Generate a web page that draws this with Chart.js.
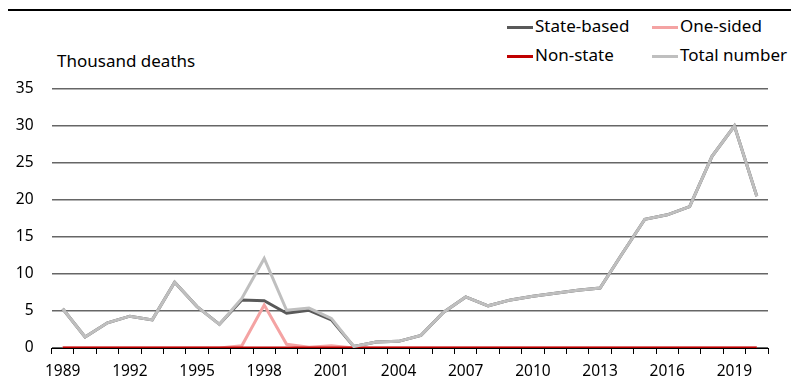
<!DOCTYPE html>
<html>
<head>
<meta charset="utf-8">
<script src="https://cdn.jsdelivr.net/npm/chart.js@4.4.0/dist/chart.umd.min.js"></script>
<style>
    body { margin: 0; background: #fff; font-family: "Noto Sans", sans-serif; }
    #wrap { position: relative; width: 791px; height: 383px; overflow: hidden; }
    #rule { position: absolute; left: 8px; right: 0; top: 9px; height: 2px; background: #000; }
    #unit { position: absolute; left: 57px; top: 49px; font-size: 17px; color: #000; }
    .leg { position: absolute; font-size: 17px; color: #000; white-space: nowrap; }
    .leg span { display: inline-block; width: 26px; height: 3px; vertical-align: middle; margin-right: 2px; }
    canvas { position: absolute; left: 0; top: 0; }
</style>
</head>
<body>
<div id="wrap">
    <div id="rule"></div>
    <div id="unit">Thousand deaths</div>
    <div class="leg" style="left:507px; top:14px"><span style="background:#595959"></span>State-based</div>
    <div class="leg" style="left:652px; top:14px"><span style="background:#f4a3a3"></span>One-sided</div>
    <div class="leg" style="left:507px; top:43px"><span style="background:#c00000"></span>Non-state</div>
    <div class="leg" style="left:652px; top:43px"><span style="background:#bfbfbf"></span>Total number</div>
    <canvas id="myChart" width="791" height="383"></canvas>
</div>
<script>
const years = [];
for (let y = 1989; y <= 2020; y++) years.push(String(y));

// thousand deaths per year
const stateBased = [5.3, 1.5, 3.4, 4.3, 3.8, 8.9, 5.6, 3.2, 6.5, 6.4, 4.7, 5.1, 3.8, 0.2, 0.8, 0.9,
    1.7, 4.8, 6.9, 5.7, 6.5, 7.0, 7.4, 7.8, 8.1, 12.8, 17.4, 18.0, 19.1, 25.9, 30.0, 20.5];
const oneSided = [0, 0, 0, 0, 0, 0, 0, 0, 0.3, 5.8, 0.5, 0.1, 0.3, 0, 0, 0,
    0, 0, 0, 0, 0, 0, 0, 0, 0, 0, 0, 0, 0, 0, 0, 0];
const nonState = [0, 0, 0, 0, 0, 0, 0, 0, 0, 0, 0, 0, 0, 0, 0, 0,
    0, 0, 0, 0, 0, 0, 0, 0, 0, 0, 0, 0, 0, 0, 0, 0];
const total = [5.3, 1.5, 3.4, 4.3, 3.8, 8.9, 5.6, 3.2, 6.7, 12.1, 5.1, 5.4, 4.0, 0.2, 0.8, 0.9,
    1.7, 4.8, 6.9, 5.7, 6.5, 7.0, 7.4, 7.8, 8.1, 12.8, 17.4, 18.0, 19.1, 25.9, 30.0, 20.5];

const ctx = document.getElementById('myChart');
const font = { family: '"Noto Sans", sans-serif', size: 15.5 };

function serie(label, data, color, order) {
    return {
        label: label,
        data: data,
        borderColor: color,
        backgroundColor: color,
        borderWidth: 3,
        pointRadius: 0,
        tension: 0,
        order: order
    };
}

new Chart(ctx, {
    type: 'line',
    data: {
        labels: years,
        datasets: [
            serie('State-based', stateBased, '#595959', 3),
            serie('One-sided', oneSided, '#f4a3a3', 2),
            serie('Non-state', nonState, '#c00000', 1),
            serie('Total number', total, '#bfbfbf', 0)
        ]
    },
    options: {
        responsive: false,
        animation: false,
        layout: { padding: { top: 89, right: 23, left: 0, bottom: 0 } },
        plugins: { legend: { display: false }, tooltip: { enabled: false } },
        scales: {
            x: {
                offset: true,
                grid: { offset: true, drawOnChartArea: false, drawTicks: true, tickLength: 6, color: '#000', lineWidth: 1 },
                border: { color: '#000', width: 1 },
                ticks: {
                    font: font, color: '#000', autoSkip: false, maxRotation: 0, padding: 8,
                    callback: function (v, i) { return (i % 3 === 0) ? years[i] : ''; }
                },
                afterFit: function (s) { s.height = 35; }
            },
            y: {
                min: 0, max: 35,
                ticks: { stepSize: 5, font: font, color: '#000', padding: 18 },
                grid: { color: '#666', lineWidth: 1.5, drawTicks: false },
                border: { display: false },
                afterFit: function (s) { s.width = 51.5; }
            }
        }
    }
});
</script>
</body>
</html>
